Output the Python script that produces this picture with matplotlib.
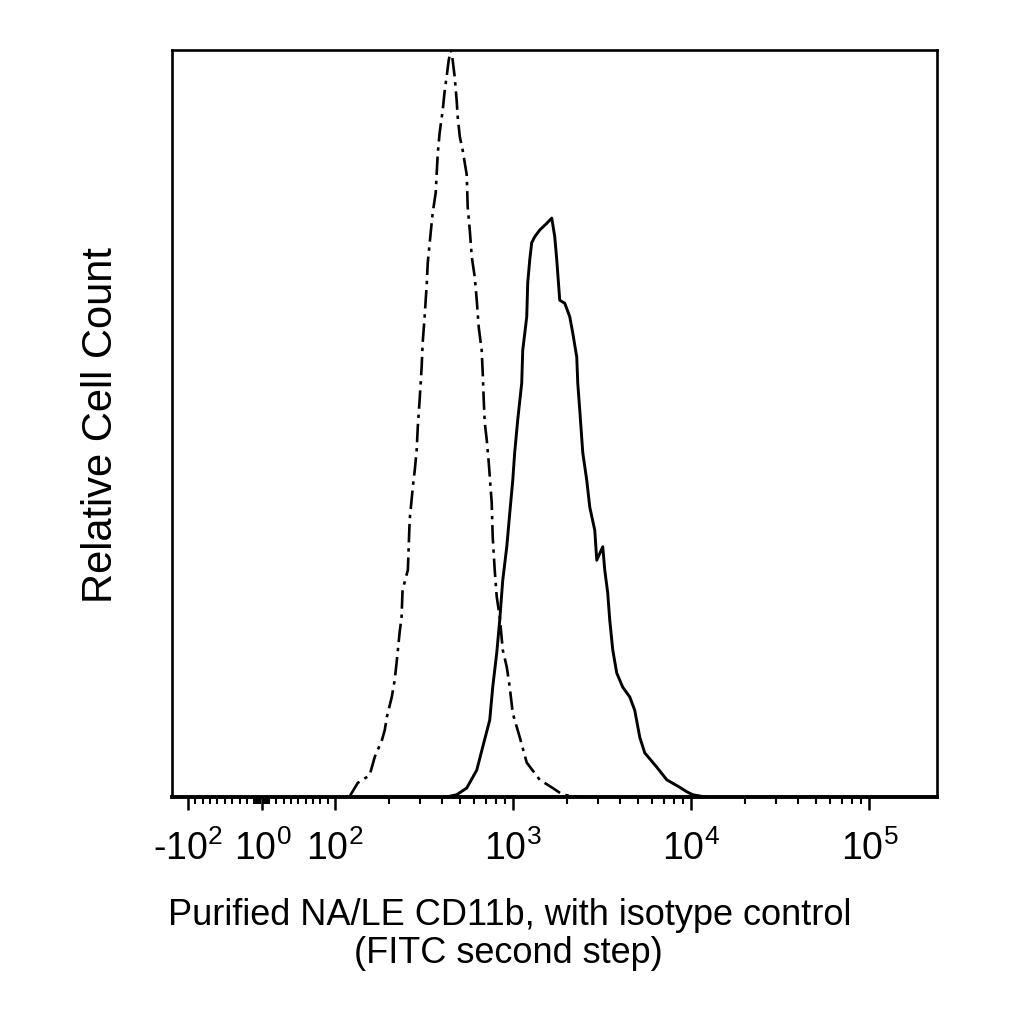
import numpy as np
import matplotlib
matplotlib.use("Agg")
import matplotlib.pyplot as plt

plt.rcParams['font.family'] = ['Liberation Sans', 'DejaVu Sans']
plt.rcParams['mathtext.fontset'] = 'custom'
plt.rcParams['mathtext.rm'] = 'Liberation Sans'
plt.rcParams['mathtext.it'] = 'Liberation Sans'

# isotype control (dash-dot), fluorescence vs relative count
iso_x = [120, 134, 156, 167, 183, 190, 195, 208, 216, 222, 230, 236, 239, 256, 262,
         273, 280, 287, 291, 298, 306, 310, 318, 327, 331, 348, 353, 367, 372, 377,
         386, 402, 412, 423, 434, 446, 455, 469, 481, 488, 501, 520, 548, 555, 570,
         585, 608, 624, 640, 665, 674, 683, 692, 710, 729, 757, 767, 787, 808, 840,
         873, 920, 956, 994, 1088, 1191, 1409, 1667, 1897, 2400]
iso_y = [0, 1.9, 2.9, 5.4, 7.6, 9.0, 10.7, 13.4, 15.7, 18.3, 22.0, 24.1, 27.7, 30.4, 37.1,
         41.5, 43.8, 46.5, 49.5, 53.1, 57.6, 60.8, 64.3, 68.8, 71.5, 76.8, 78.2, 80.9, 83.7, 86.2,
         88.9, 92.0, 94.5, 96.5, 98.6, 100.0, 99.0, 96.4, 93.3, 91.0, 88.4, 86.6, 83.3, 79.0, 75.9,
         72.3, 69.6, 66.5, 62.9, 59.8, 56.8, 53.1, 50.1, 47.8, 44.7, 39.4, 34.8, 30.4, 26.8, 24.1,
         19.7, 17.4, 14.7, 11.2, 8.0, 4.6, 2.3, 1.2, 0.3, 0]

# CD11b (solid)
cd_x = [420, 481, 548, 624, 674, 738, 767, 808, 840, 873, 920, 956, 994, 1019, 1060,
        1116, 1131, 1191, 1206, 1238, 1270, 1321, 1409, 1543, 1646, 1711, 1756, 1825, 1947, 2077,
        2160, 2274, 2304, 2364, 2458, 2588, 2691, 2871, 2946, 3183, 3266, 3395, 3484, 3622, 3814,
        4122, 4513, 4815, 5137, 5481, 6400, 7286, 8618, 9434, 10197, 12000]
cd_y = [0, 0.3, 1.2, 3.6, 6.7, 10.3, 14.7, 19.3, 23.7, 29.0, 33.5, 38.0, 42.4, 46.1, 50.5,
        55.4, 59.8, 64.3, 68.8, 71.9, 74.2, 75.0, 75.9, 76.8, 77.5, 75.0, 71.9, 66.5, 66.1, 64.3,
        62.1, 58.9, 55.4, 51.8, 46.1, 42.4, 38.8, 35.7, 31.7, 33.5, 30.4, 27.3, 23.7, 19.7, 16.6,
        14.7, 13.4, 11.6, 8.0, 5.9, 4.0, 2.3, 1.3, 0.7, 0.3, 0]

major_ticks = [-100, 1, 100, 1000, 10000, 100000]
major_labels = [r'-$10^{2}$', r'$10^{0}$', r'$10^{2}$', r'$10^{3}$', r'$10^{4}$', r'$10^{5}$']
minor_ticks = ([-v for v in range(10, 100, 10)] + [-v for v in range(2, 10)] + list(range(2, 10))
               + list(range(10, 100, 10)) + list(range(200, 1000, 100))
               + list(range(2000, 10000, 1000)) + list(range(20000, 100000, 10000)))

fig = plt.figure(figsize=(10.24, 10.24), dpi=100)
ax = fig.add_axes([172/1024, 1-797/1024, (937-172)/1024, (797-50)/1024])

ax.plot(iso_x, iso_y, color='black', lw=1.9, linestyle=(0, (7, 2.2, 1.3, 2.2)))
ax.plot(cd_x, cd_y, color='black', lw=2.1)

ax.set_xscale('symlog', linthresh=100, linscale=0.372)
ax.set_xlim(-123, 240000)
ax.set_ylim(0, 100)

ax.set_xticks(major_ticks)
ax.set_xticklabels(major_labels)
ax.set_xticks(minor_ticks, minor=True)
ax.set_yticks([])
ax.tick_params(axis='x', which='major', length=9, width=1.8, labelsize=27, pad=15)
ax.tick_params(axis='x', which='minor', length=5, width=1.5)
for s in ax.spines.values():
    s.set_linewidth(1.9)
ax.spines['bottom'].set_linewidth(2.8)

fig.text(101/1024, 1-425/1024, 'Relative Cell Count', rotation=90,
         ha='center', va='center', fontsize=30)
fig.text(510/1024, 1-925/1024, 'Purified NA/LE CD11b, with isotype control',
         ha='center', va='baseline', fontsize=26)
fig.text(508/1024, 1-963/1024, '(FITC second step)',
         ha='center', va='baseline', fontsize=26)

fig.savefig('out.png', dpi=100)
